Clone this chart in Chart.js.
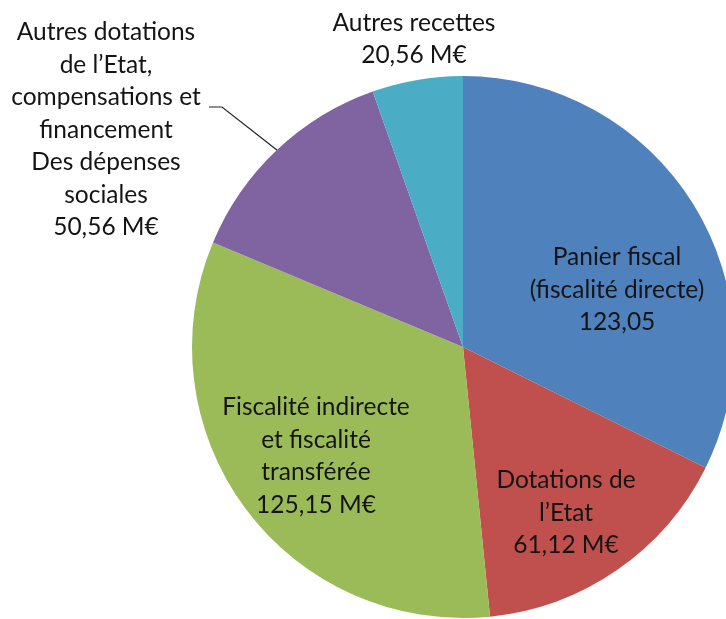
<!DOCTYPE html>
<html lang="fr">
<head>
<meta charset="UTF-8">
<title>Recettes</title>
<script src="https://cdn.jsdelivr.net/npm/chart.js"></script>
<style>
  html, body { margin: 0; padding: 0; background: #ffffff; }
  #pie { display: block; }
</style>
</head>
<body>
<canvas id="pie" width="726" height="619"></canvas>
<script>
// slices, clockwise from 12 o'clock
const categories = ['Panier fiscal', 'Dotations de l\u2019Etat', 'Fiscalité indirecte et fiscalité transférée',
  'Autres dotations de l\u2019Etat', 'Autres recettes'];
const values = [123.05, 61.12, 125.15, 50.56, 20.56];
const valueTexts = ['123,05', '61,12 M€', '125,15 M€', '50,56 M€', '20,56 M€'];
const labelLines = [
  ['Panier fiscal', '(fiscalité directe)'],
  ['Dotations de', 'l\u2019Etat'],
  ['Fiscalité indirecte', 'et fiscalité', 'transférée'],
  ['Autres dotations', 'de l\u2019Etat,', 'compensations et', 'financement', 'Des dépenses', 'sociales'],
  ['Autres recettes']
];
const colors = ['#4f81bd', '#c0504d', '#9bbb59', '#8064a2', '#4bacc6'];

// where each text block sits, relative to the pie centre
const labelOffsets = [[154, -57], [103, 166], [-147, 109], [-357, -217], [-49, -308]];
const lineHeight = 32.5;
const labelFont = '24.5px Lato';

const labelPlugin = {
  id: 'sliceLabels',
  afterDatasetsDraw(chart) {
    const ctx = chart.ctx;
    const arcs = chart.getDatasetMeta(0).data;
    const cx = arcs[0].x, cy = arcs[0].y;
    ctx.save();
    ctx.font = labelFont;
    ctx.fillStyle = '#141414';
    ctx.textAlign = 'center';
    ctx.textBaseline = 'middle';
    labelLines.forEach((lines, i) => {
      const all = lines.concat([valueTexts[i]]);
      const x = cx + labelOffsets[i][0];
      const y0 = cy + labelOffsets[i][1] - (all.length - 1) * lineHeight / 2;
      all.forEach((t, j) => ctx.fillText(t, x, y0 + j * lineHeight));
    });

    // leader line for the purple slice
    const a = arcs[3];
    const mid = (a.startAngle + a.endAngle) / 2;
    ctx.strokeStyle = '#222222';
    ctx.lineWidth = 1.2;
    ctx.beginPath();
    ctx.moveTo(cx - 254, cy - 240);
    ctx.lineTo(cx - 241, cy - 240);
    ctx.lineTo(cx + Math.cos(mid) * a.outerRadius, cy + Math.sin(mid) * a.outerRadius);
    ctx.stroke();
    ctx.restore();
  }
};

new Chart(document.getElementById('pie'), {
  type: 'pie',
  data: {
    labels: categories,
    datasets: [{
      data: values,
      backgroundColor: colors,
      borderWidth: 0,
      radius: 271,
      clip: false
    }]
  },
  options: {
    responsive: false,
    animation: false,
    devicePixelRatio: 1,
    events: [],
    layout: { padding: { left: 200, top: 75, right: 0, bottom: 0 } },
    plugins: {
      legend: { display: false },
      tooltip: { enabled: false }
    }
  },
  plugins: [labelPlugin]
});
</script>
</body>
</html>
